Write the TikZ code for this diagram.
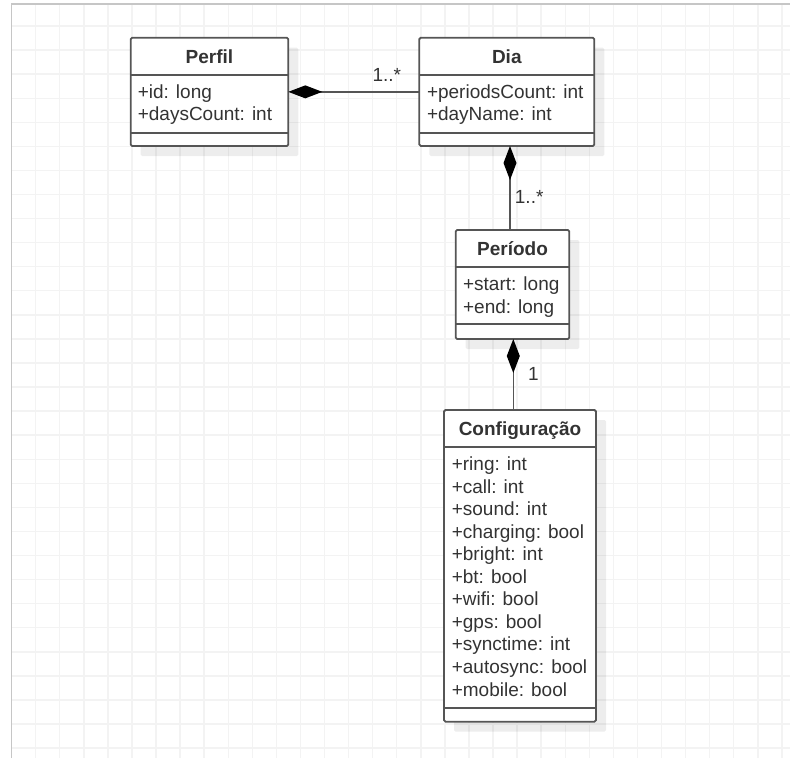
\documentclass[tikz,border=0pt]{standalone}
\usepackage{fontspec}
\setmainfont{Liberation Sans}
\usetikzlibrary{arrows.meta,shadows}
\definecolor{txt}{HTML}{333333}
\definecolor{edge}{HTML}{555555}
\definecolor{gridc}{HTML}{F3F3F3}
\definecolor{frame}{HTML}{C6C6C6}
\tikzset{
  classbox/.style={draw=edge, line width=1.8pt, fill=white, rounded corners=1.5pt,
    inner sep=0pt, outer sep=0pt, anchor=north west,
    drop shadow={shadow xshift=10pt, shadow yshift=-10pt, fill=black, opacity=0.07}},
  sepline/.style={draw=edge, line width=1.8pt},
  title/.style={inner sep=0pt, anchor=base, text=txt, font=\fontsize{19}{22}\selectfont\bfseries},
  attr/.style={inner sep=0pt, anchor=base west, text=txt, font=\fontsize{19}{22}\selectfont},
  mult/.style={inner sep=0pt, anchor=base west, text=txt, font=\fontsize{19}{22}\selectfont},
  compo/.style={draw=edge, line width=1.6pt,
    {Diamond[length=34pt,width=13pt,color=black,fill=black]}-},
  gridline/.style={draw=gridc, line width=1.4pt},
  frameline/.style={draw=frame, line width=1.2pt}
}
\begin{document}
\begin{tikzpicture}[x=1pt, y=-1pt]
\useasboundingbox (0,0) rectangle (790,758);

% background grid and frame
\foreach \k in {0,...,31} \draw[gridline] (35.7+24.07*\k,4) -- (35.7+24.07*\k,758);
\foreach \k in {0,...,30} \draw[gridline] (11.7,26+24.07*\k) -- (790,26+24.07*\k);
\draw[frameline] (11.7,758) -- (11.7,4) -- (790,4);

% class Perfil
\node[classbox, minimum width=157.6pt, minimum height=108.3pt] (perfil) at (130.7,37.7) {};
\draw[sepline] (perfil.west |- 0,75) -- (perfil.east |- 0,75);
\draw[sepline] (perfil.west |- 0,132.7) -- (perfil.east |- 0,132.7);
\node[title] (perfil-t) at (209.5,63.3) {Perfil};
\node[attr] (perfil-a0) at (137.6,98.3) {+id: long};
\node[attr] (perfil-a1) at (137.6,120.8) {+daysCount: int};

% class Dia
\node[classbox, minimum width=175pt, minimum height=108.3pt] (dia) at (419.3,37.7) {};
\draw[sepline] (dia.west |- 0,75) -- (dia.east |- 0,75);
\draw[sepline] (dia.west |- 0,133.3) -- (dia.east |- 0,133.3);
\node[title] (dia-t) at (506.8,63.3) {Dia};
\node[attr] (dia-a0) at (426.8,98.3) {+periodsCount: int};
\node[attr] (dia-a1) at (426.8,120.8) {+dayName: int};

% class Periodo
\node[classbox, minimum width=113.6pt, minimum height=109pt] (periodo) at (455.7,230) {};
\draw[sepline] (periodo.west |- 0,267.3) -- (periodo.east |- 0,267.3);
\draw[sepline] (periodo.west |- 0,324.3) -- (periodo.east |- 0,324.3);
\node[title] (periodo-t) at (512.5,255.6) {Período};
\node[attr] (periodo-a0) at (462.9,290.5) {+start: long};
\node[attr] (periodo-a1) at (462.9,313) {+end: long};

% class Configuracao
\node[classbox, minimum width=152pt, minimum height=311.7pt] (conf) at (444,410) {};
\draw[sepline] (conf.west |- 0,447.3) -- (conf.east |- 0,447.3);
\draw[sepline] (conf.west |- 0,707.7) -- (conf.east |- 0,707.7);
\node[title] (conf-t) at (520,435.6) {Configuração};
\foreach \t [count=\i from 0] in {+ring: int,+call: int,+sound: int,+charging: bool,
    +bright: int,+bt: bool,+wifi: bool,+gps: bool,+synctime: int,+autosync: bool,+mobile: bool}
  \node[attr] (conf-a\i) at (451.6,470.7+22.53*\i) {\t};

% compositions
\coordinate (xa) at (510,0);
\coordinate (xb) at (513.3,0);
\draw[compo] (perfil.east) -- (dia.west);
\draw[compo] (dia.south -| xa) -- (periodo.north -| xa);
\draw[compo] (periodo.south -| xb) -- (conf.north -| xb);

% multiplicities
\node[mult] (m1) at (372.4,81.7) {1..*};
\node[mult] (m2) at (514.7,203.8) {1..*};
\node[mult] (m3) at (527.8,380.7) {1};
\end{tikzpicture}
\end{document}
